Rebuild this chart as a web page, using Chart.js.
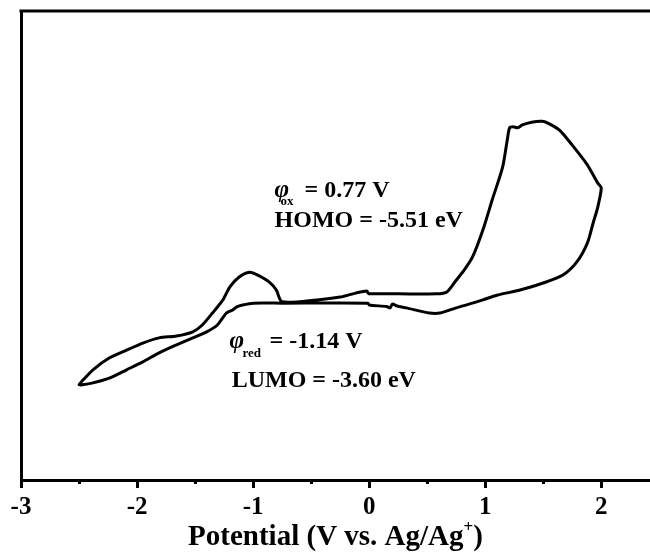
<!DOCTYPE html>
<html>
<head>
<meta charset="utf-8">
<script src="https://cdn.jsdelivr.net/npm/chart.js@4"></script>
<style>
  html, body { margin: 0; padding: 0; background: #fff; }
  canvas { display: block; }
</style>
</head>
<body>
<canvas id="c" width="650" height="554"></canvas>
<script>
// Cyclic voltammogram (arbitrary current units), traced in scan order
const potentialV = [
  0.00, 0.26, 0.58, 0.67, 0.75, 0.82, 0.89, 0.98, 1.06, 1.15, 1.19, 1.21, 1.24, 1.28, 1.32, 1.40, 1.49, 1.54, 1.64, 1.75, 1.88, 1.97, 2.00,
  1.97, 1.93, 1.88, 1.79, 1.67, 1.50, 1.30, 1.10, 0.98, 0.89, 0.75, 0.61, 0.52, 0.32, 0.24, 0.20, 0.18, 0.15, 0.00, -0.01,
  -0.75, -1.00, -1.09, -1.14, -1.18, -1.23, -1.31, -1.40, -1.52, -1.66, -1.81, -1.95, -2.09, -2.24, -2.38, -2.47, -2.50,
  -2.48, -2.38, -2.24, -2.09, -1.95, -1.81, -1.66, -1.52, -1.44, -1.35, -1.26, -1.20, -1.12, -1.03, -0.96, -0.86, -0.80, -0.75,
  -0.45, -0.25, -0.11, -0.02, -0.01, 0.00
];
const currentArb = [
  39.7, 39.7, 39.7, 40.1, 42.6, 44.8, 47.5, 53.3, 59.7, 66.7, 72.5, 75.1, 75.3, 75.1, 75.7, 76.3, 76.5, 76.1, 74.6, 71.4, 67.2, 63.3, 62.3,
  58.2, 54.8, 50.5, 46.5, 43.7, 42.0, 40.5, 39.4, 38.4, 37.7, 36.7, 35.6, 35.6, 36.7, 37.1, 37.5, 36.7, 37.0, 37.3, 37.7,
  37.7, 37.7, 37.3, 36.9, 36.2, 35.6, 33.0, 31.6, 30.3, 28.8, 27.1, 25.2, 23.5, 21.7, 20.7, 20.3, 20.3,
  20.9, 23.5, 26.0, 27.7, 29.2, 30.3, 30.7, 31.6, 33.0, 35.6, 38.4, 41.2, 43.3, 44.3, 43.7, 42.2, 40.5, 38.0,
  38.4, 39.0, 39.9, 40.3, 39.9, 39.7
];
const xTickValues = [-3, -2, -1, 0, 1, 2];
const xMinorValues = [-2.5, -1.5, -0.5, 0.5, 1.5];
const xTitleMain = 'Potential (V vs. Ag/Ag';
const xTitleSup = '+';
const xTitleEnd = ')';

// annotations anchored at data coordinates
const annoOx = { sub: 'ox', rest: '= 0.77 V', x: -0.815, y: 60.3 };
const annoHomo = { text: 'HOMO = -5.51 eV', x: -0.815, y: 53.9 };
const annoRed = { sub: 'red', rest: '= -1.14 V', x: -1.203, y: 28.1 };
const annoLumo = { text: 'LUMO = -3.60 eV', x: -1.185, y: 19.8 };

const points = potentialV.map((v, i) => ({ x: v, y: currentArb[i] }));
const SERIF = '"Liberation Serif", "Times New Roman", serif';

const decor = {
  id: 'decor',
  afterDraw(chart) {
    const ctx = chart.ctx;
    const a = chart.chartArea;
    const xs = chart.scales.x, ys = chart.scales.y;
    ctx.save();
    ctx.strokeStyle = '#000';
    ctx.lineWidth = 3;
    // top frame line
    ctx.beginPath();
    ctx.moveTo(a.left - 1.5, a.top);
    ctx.lineTo(a.right, a.top);
    ctx.stroke();
    // minor ticks
    xMinorValues.forEach(v => {
      const px = Math.round(xs.getPixelForValue(v)) + 0.5;
      ctx.beginPath();
      ctx.moveTo(px, a.bottom);
      ctx.lineTo(px, a.bottom + 4);
      ctx.stroke();
    });
    ctx.fillStyle = '#000';
    ctx.textBaseline = 'alphabetic';
    ctx.textAlign = 'left';
    // axis title with superscript
    const fMain = 'bold 29px ' + SERIF;
    const fSup = 'bold 17px ' + SERIF;
    ctx.font = fMain;
    const w1 = ctx.measureText(xTitleMain).width;
    const w3 = ctx.measureText(xTitleEnd).width;
    ctx.font = fSup;
    const w2 = ctx.measureText(xTitleSup).width;
    const total = w1 + w2 + w3;
    let tx = (a.left + a.right) / 2 - total / 2;
    const ty = 545;
    ctx.font = fMain; ctx.fillText(xTitleMain, tx, ty); tx += w1;
    ctx.font = fSup; ctx.fillText(xTitleSup, tx, ty - 13); tx += w2;
    ctx.font = fMain; ctx.fillText(xTitleEnd, tx, ty);

    // annotations
    const fAnno = 'bold 24px ' + SERIF;
    const fPhi = 'italic bold 25px ' + SERIF;
    const fSub = 'bold 13px ' + SERIF;
    function phiLine(an, subDx, subDy, restDx) {
      const px = xs.getPixelForValue(an.x), py = ys.getPixelForValue(an.y);
      ctx.font = fPhi; ctx.fillText('\u03C6', px, py);
      ctx.font = fSub; ctx.fillText(an.sub, px + subDx, py + subDy);
      ctx.font = fAnno; ctx.fillText(an.rest, px + restDx, py);
    }
    function plainLine(an) {
      const px = xs.getPixelForValue(an.x), py = ys.getPixelForValue(an.y);
      ctx.font = fAnno; ctx.fillText(an.text, px, py);
    }
    phiLine(annoOx, 6, 8, 30);
    plainLine(annoHomo);
    phiLine(annoRed, 13, 9, 40);
    plainLine(annoLumo);
    ctx.restore();
  }
};

new Chart(document.getElementById('c'), {
  type: 'scatter',
  data: {
    datasets: [{
      data: points,
      showLine: true,
      borderColor: '#000',
      borderWidth: 3,
      pointRadius: 0,
      fill: false,
      tension: 0.25,
      borderJoinStyle: 'round',
      borderCapStyle: 'round'
    }]
  },
  options: {
    responsive: false,
    animation: false,
    layout: { padding: { top: 11, right: 0, left: 0, bottom: 0 } },
    plugins: { legend: { display: false }, tooltip: { enabled: false } },
    scales: {
      x: {
        type: 'linear',
        position: 'bottom',
        min: -3,
        max: 2.42,
        afterFit: s => { s.height = 74; },
        afterBuildTicks: s => { s.ticks = xTickValues.map(v => ({ value: v })); },
        ticks: {
          autoSkip: false,
          maxRotation: 0,
          color: '#000',
          padding: 5,
          font: { family: SERIF, size: 25, weight: 'bold' },
          callback: v => String(v)
        },
        grid: {
          display: true,
          drawOnChartArea: false,
          drawTicks: true,
          tickLength: 8,
          tickWidth: 3,
          tickColor: '#000'
        },
        border: { display: true, color: '#000', width: 3 }
      },
      y: {
        min: 0,
        max: 100,
        afterFit: s => { s.width = 21; },
        ticks: { display: false },
        grid: { display: false, drawTicks: false },
        border: { display: true, color: '#000', width: 3 }
      }
    }
  },
  plugins: [decor]
});
</script>
</body>
</html>
